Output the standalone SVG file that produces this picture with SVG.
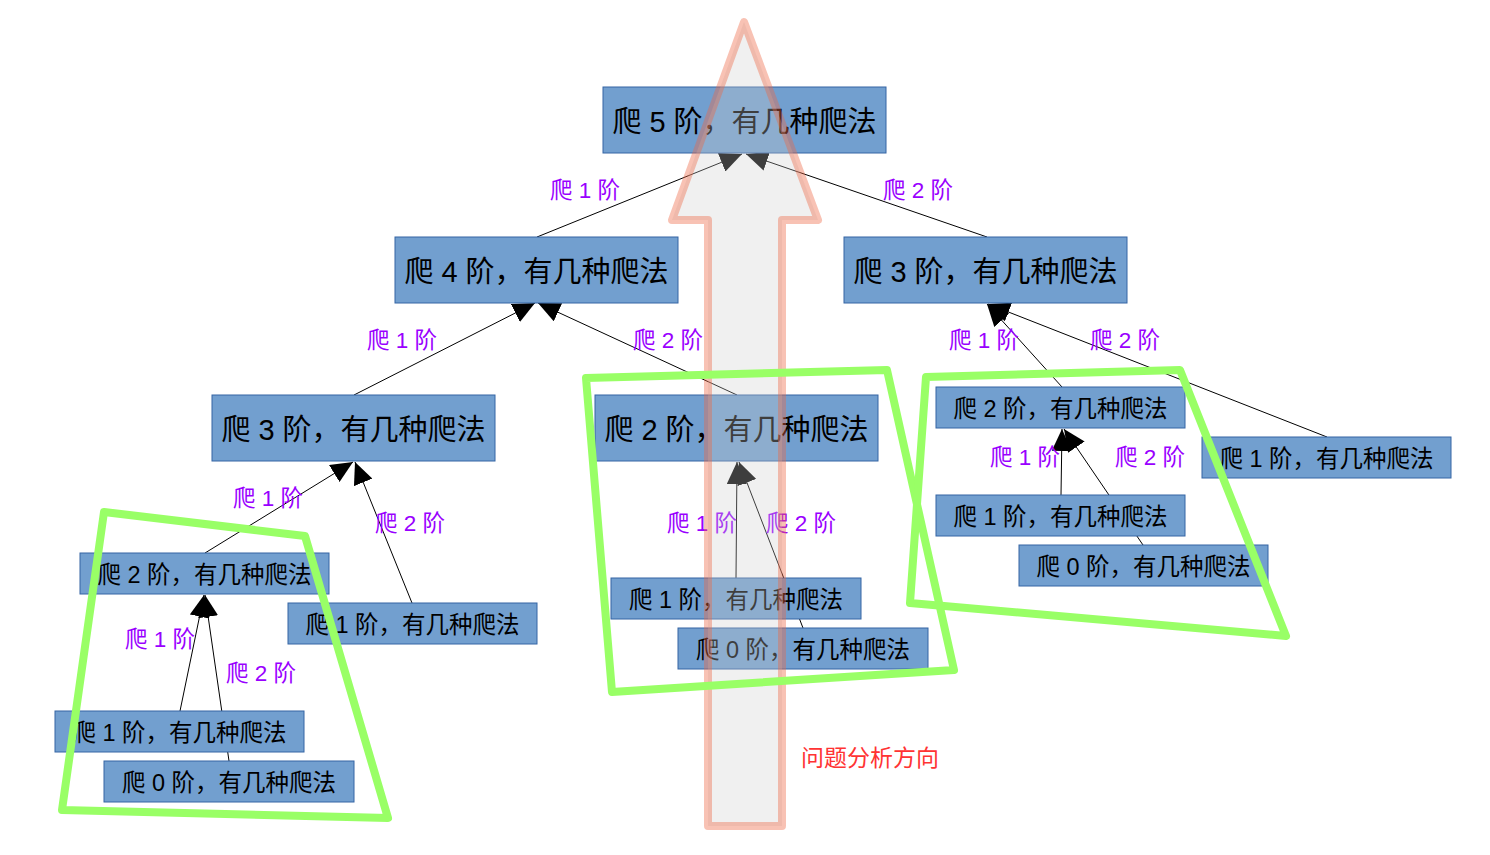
<svg xmlns="http://www.w3.org/2000/svg" width="1490" height="855" viewBox="0 0 1490 855">
<style>
.n rect{fill:#729fcf;stroke:#3465a4;stroke-width:1}
.n text{font-family:"Liberation Sans","Noto Sans CJK SC",sans-serif;fill:#000;text-anchor:middle;dominant-baseline:central}
.big text{font-size:29px}
.sm text{font-size:23.5px}
.e line{stroke:#000;stroke-width:1;fill:none;marker-end:url(#ah)}
.lb{font-family:"Liberation Sans","Noto Sans CJK SC",sans-serif;font-size:22.5px;fill:#9900ff;text-anchor:middle;dominant-baseline:central}
.g{fill:none;stroke:#99ff66;stroke-width:8;stroke-linejoin:round}
</style>
<defs>
<marker id="ah" viewBox="0 0 22 20" refX="22" refY="10" markerWidth="22" markerHeight="20" markerUnits="userSpaceOnUse" orient="auto">
<path d="M0,0 L22,10 L0,20 Z" fill="#000"/>
</marker>
</defs>
<rect width="1490" height="855" fill="#fff"/>
<g id="connectors" class="e">
<line x1="537" y1="237" x2="742" y2="154"/>
<line x1="987" y1="237" x2="746" y2="154"/>
<line x1="354" y1="395" x2="535" y2="303"/>
<line x1="737" y1="395" x2="538" y2="303"/>
<line x1="1062" y1="387" x2="987" y2="304"/>
<line x1="1327" y1="437" x2="988" y2="304"/>
<line x1="205" y1="553" x2="353" y2="462"/>
<line x1="412" y1="603" x2="355" y2="462"/>
<line x1="180" y1="711" x2="204" y2="595"/>
<line x1="229" y1="761" x2="205" y2="595"/>
<line x1="736" y1="578" x2="737" y2="462"/>
<line x1="803" y1="628" x2="739" y2="462"/>
<line x1="1061" y1="495" x2="1062" y2="429"/>
<line x1="1143" y1="545" x2="1064" y2="429"/>
</g>
<g id="n5" class="n big"><rect x="603" y="87" width="283" height="66"/><text x="744.5" y="121.5">爬 5 阶，有几种爬法</text></g>
<g id="n4" class="n big"><rect x="395" y="237" width="283" height="66"/><text x="536.5" y="271.5">爬 4 阶，有几种爬法</text></g>
<g id="n3r" class="n big"><rect x="844" y="237" width="283" height="66"/><text x="985.5" y="271.5">爬 3 阶，有几种爬法</text></g>
<g id="n3l" class="n big"><rect x="212" y="395" width="283" height="66"/><text x="353.5" y="429.5">爬 3 阶，有几种爬法</text></g>
<g id="n2m" class="n big"><rect x="595" y="395" width="283" height="66"/><text x="736.5" y="429.5">爬 2 阶，有几种爬法</text></g>
<g id="n2a" class="n sm"><rect x="80" y="553" width="249" height="41"/><text x="204.5" y="574.5">爬 2 阶，有几种爬法</text></g>
<g id="n1a" class="n sm"><rect x="288" y="603" width="249" height="41"/><text x="412.5" y="624.5">爬 1 阶，有几种爬法</text></g>
<g id="n1b" class="n sm"><rect x="55" y="711" width="249" height="41"/><text x="179.5" y="732.5">爬 1 阶，有几种爬法</text></g>
<g id="n0b" class="n sm"><rect x="104" y="761" width="250" height="41"/><text x="229" y="782.5">爬 0 阶，有几种爬法</text></g>
<g id="n1c" class="n sm"><rect x="611" y="578" width="250" height="41"/><text x="736" y="599.5">爬 1 阶，有几种爬法</text></g>
<g id="n0c" class="n sm"><rect x="678" y="628" width="250" height="41"/><text x="803" y="649.5">爬 0 阶，有几种爬法</text></g>
<g id="n2d" class="n sm"><rect x="936" y="387" width="249" height="41"/><text x="1060.5" y="408.5">爬 2 阶，有几种爬法</text></g>
<g id="n1d" class="n sm"><rect x="1202" y="437" width="249" height="41"/><text x="1326.5" y="458.5">爬 1 阶，有几种爬法</text></g>
<g id="n1e" class="n sm"><rect x="936" y="495" width="249" height="41"/><text x="1060.5" y="516.5">爬 1 阶，有几种爬法</text></g>
<g id="n0e" class="n sm"><rect x="1019" y="545" width="249" height="41"/><text x="1143.5" y="566.5">爬 0 阶，有几种爬法</text></g>
<g id="labels">
<text class="lb" x="585" y="190.5">爬 1 阶</text>
<text class="lb" x="918" y="190.5">爬 2 阶</text>
<text class="lb" x="402" y="340.5">爬 1 阶</text>
<text class="lb" x="668" y="340.5">爬 2 阶</text>
<text class="lb" x="984" y="340.5">爬 1 阶</text>
<text class="lb" x="1125" y="340.5">爬 2 阶</text>
<text class="lb" x="268" y="498.5">爬 1 阶</text>
<text class="lb" x="410" y="523.5">爬 2 阶</text>
<text class="lb" x="160" y="639.5">爬 1 阶</text>
<text class="lb" x="261" y="673.5">爬 2 阶</text>
<text class="lb" x="702" y="523.5">爬 1 阶</text>
<text class="lb" x="801" y="523.5">爬 2 阶</text>
<text class="lb" x="1025" y="457.5">爬 1 阶</text>
<text class="lb" x="1150" y="457.5">爬 2 阶</text>
</g>
<g id="direction-arrow">
<path d="M744,22 L818,220 L782,220 L782,826 L708,826 L708,220 L672,220 Z" fill="#cccccc" fill-opacity="0.3" stroke="#ee6644" stroke-opacity="0.4" stroke-width="8" stroke-linejoin="round"/>
</g>
<g id="groups">
<polygon class="g" points="104,512 305,536 388,818 62,810"/>
<polygon class="g" points="586,378 887,370 954,670 612,692"/>
<polygon class="g" points="926,377 1180,370 1286,636 910,603"/>
</g>
<text x="870" y="757.5" font-family="Liberation Sans,Noto Sans CJK SC,sans-serif" font-size="23" fill="#ff3333" text-anchor="middle" dominant-baseline="central">问题分析方向</text>
</svg>
